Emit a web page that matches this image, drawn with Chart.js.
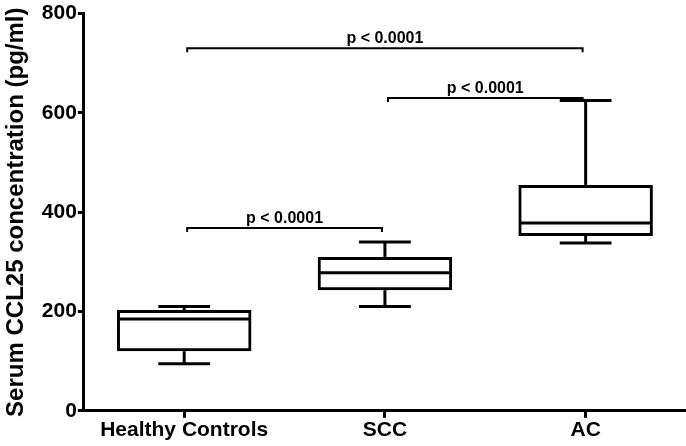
<!DOCTYPE html>
<html lang="en">
<head>
  <meta charset="UTF-8" />
  <title>Serum CCL25</title>
  <script src="https://cdn.jsdelivr.net/npm/chart.js"></script>
  <style>
    body { margin: 0; background: #fff; }
    .wrap { width: 686px; height: 446px; }
  </style>
</head>
<body>
  <div class="wrap"><canvas id="box"></canvas></div>

  <script>
    const categories = ['Healthy Controls', 'SCC', 'AC'];
    const mins    = [95, 210, 338];
    const q1s     = [120, 243, 352];
    const medians = [185, 278, 378];
    const q3s     = [203, 310, 455];
    const maxs    = [210, 340, 625];
    const yTicks  = [0, 200, 400, 600, 800];

    // significance brackets: from group, to group, height, text
    const bracketFrom  = [0, 1, 0];
    const bracketTo    = [2, 2, 1];
    const bracketAt    = [730, 630, 368];
    const bracketTexts = ['p < 0.0001', 'p < 0.0001', 'p < 0.0001'];

    const FONT = "'Liberation Sans', Arial, sans-serif";

    const boxExtras = {
      id: 'boxExtras',
      afterDatasetsDraw(chart) {
        const { ctx, scales: { x, y } } = chart;
        const bars = chart.getDatasetMeta(0).data;
        ctx.save();
        ctx.strokeStyle = '#000';
        ctx.lineWidth = 3;
        const seg = (x1, y1, x2, y2) => {
          ctx.beginPath(); ctx.moveTo(x1, y1); ctx.lineTo(x2, y2); ctx.stroke();
        };
        bars.forEach((bar, i) => {
          const cx = bar.x;
          const half = bar.width / 2;
          const cap = half * 0.385;
          const yMed = y.getPixelForValue(medians[i]);
          seg(cx - half + 1, yMed, cx + half - 1, yMed);
          seg(cx, y.getPixelForValue(q3s[i]), cx, y.getPixelForValue(maxs[i]));
          seg(cx, y.getPixelForValue(q1s[i]), cx, y.getPixelForValue(mins[i]));
          seg(cx - cap, y.getPixelForValue(maxs[i]), cx + cap, y.getPixelForValue(maxs[i]));
          seg(cx - cap, y.getPixelForValue(mins[i]), cx + cap, y.getPixelForValue(mins[i]));
        });

        ctx.lineWidth = 2;
        ctx.fillStyle = '#000';
        ctx.font = 'bold 16px ' + FONT;
        ctx.textAlign = 'center';
        ctx.textBaseline = 'alphabetic';
        bracketAt.forEach((v, k) => {
          const x1 = x.getPixelForValue(bracketFrom[k]) + 3;
          const x2 = x.getPixelForValue(bracketTo[k]) - 3;
          const yy = y.getPixelForValue(v);
          ctx.beginPath();
          ctx.moveTo(x1, yy + 4);
          ctx.lineTo(x1, yy);
          ctx.lineTo(x2, yy);
          ctx.lineTo(x2, yy + 4);
          ctx.stroke();
          ctx.fillText(bracketTexts[k], (x1 + x2) / 2, yy - 5);
        });
        ctx.restore();
      }
    };

    new Chart(document.getElementById('box'), {
      type: 'bar',
      data: {
        labels: categories,
        datasets: [{
          data: q1s.map((q, i) => [q, q3s[i]]),
          backgroundColor: 'rgba(255,255,255,0)',
          borderColor: '#000',
          borderWidth: 3,
          borderSkipped: false,
          barPercentage: 0.67,
          categoryPercentage: 1
        }]
      },
      options: {
        responsive: true,
        maintainAspectRatio: false,
        animation: false,
        layout: { padding: { top: -2, right: 0, bottom: 3, left: 2 } },
        plugins: { legend: { display: false }, tooltip: { enabled: false } },
        scales: {
          x: {
            offset: true,
            grid: { display: true, offset: false, drawOnChartArea: false, drawTicks: true, tickLength: 7, tickWidth: 3, tickColor: '#000' },
            border: { display: true, color: '#000', width: 3 },
            ticks: { color: '#000', font: { family: FONT, size: 21, weight: 'bold' }, padding: 0 }
          },
          y: {
            min: 0,
            max: 800,
            afterBuildTicks: axis => { axis.ticks = yTicks.map(v => ({ value: v })); },
            grid: { display: true, drawOnChartArea: false, drawTicks: true, tickLength: 6, tickWidth: 3, tickColor: '#000' },
            border: { display: true, color: '#000', width: 3 },
            ticks: { color: '#000', font: { family: FONT, size: 21, weight: 'bold' }, padding: 1 },
            title: {
              display: true,
              text: 'Serum CCL25 concentration (pg/ml)',
              color: '#000',
              font: { family: FONT, size: 24, weight: 'bold' },
              padding: { top: 0, bottom: 10 }
            }
          }
        }
      },
      plugins: [boxExtras]
    });
  </script>
</body>
</html>
